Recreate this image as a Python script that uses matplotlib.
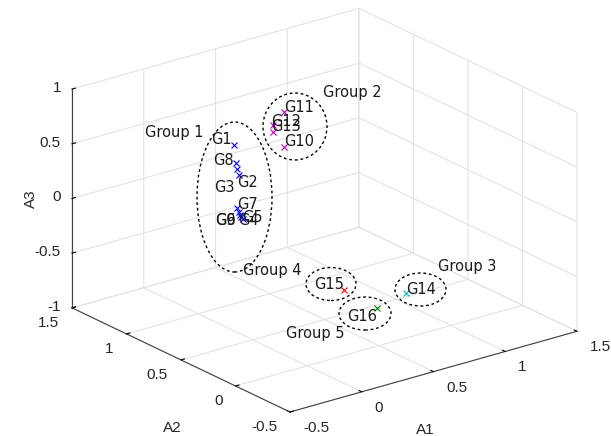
import numpy as np
import matplotlib
matplotlib.use('Agg')
import matplotlib.pyplot as plt
from matplotlib.patches import Ellipse
from mpl_toolkits.mplot3d import proj3d

# ---------------- data ----------------
names = ['G1', 'G2', 'G3', 'G4', 'G5', 'G6', 'G7', 'G8', 'G9',
         'G10', 'G11', 'G12', 'G13', 'G14', 'G15', 'G16']
A1 = [0.0, 0.0, 0.0, 0.0, 0.0, 0.0, 0.0, 0.0, 0.0,
      0.5, 0.5, 0.5, 0.5, 1.0, 0.7, 0.8]
A2 = [0.67, 0.63, 0.64, 0.59, 0.63, 0.62, 0.645, 0.65, 0.61,
      0.87, 0.87, 0.975, 0.97, 0.41, 0.586, 0.413]
A3 = [0.70, 0.44, 0.49, 0.06, 0.11, 0.08, 0.14, 0.54, 0.07,
      0.40, 0.72, 0.55, 0.49, -0.90, -0.84, -0.96]
point_colors = ['b'] * 9 + ['m'] * 4 + ['c', 'r', 'g']
# label offsets (pixels, right / up) relative to each point
label_dx = [-12.5, 9, -13.5, 6, 13.5, -14, 11, -13, -15,
            14.5, 14.5, 13.3, 12.7, 15, -15, -15]
label_dy = [5, -7.5, -18.5, -1, -5.5, -5, 3, 3, -4,
            5.8, 4.3, 4.2, 5.3, 4, 5, -9]

ticks_xy = [-0.5, 0, 0.5, 1, 1.5]
ticks_z = [-1, -0.5, 0, 0.5, 1]
tick_labels_xy = ['-0.5', '0', '0.5', '1', '1.5']
tick_labels_z = ['-1', '-0.5', '0', '0.5', '1']

group_names = ['Group 1', 'Group 2', 'Group 3', 'Group 4', 'Group 5']
group_label_xy = [(174, 132), (352, 93), (467, 267), (272, 271), (315, 333)]
ellipse_cxy = [(234.5, 197), (295, 126.5), (420.5, 289.5), (331, 284), (365, 313.5)]
ellipse_wh = [(75, 150), (64, 67), (51, 33), (50, 33), (52, 33)]

# ---------------- figure ----------------
W, H = 611, 436
plt.rcParams['axes.unicode_minus'] = False
plt.rcParams['grid.color'] = '#e3e3e3'
plt.rcParams['grid.linewidth'] = 0.8
plt.rcParams['font.family'] = ['Liberation Sans', 'DejaVu Sans']

fig = plt.figure(figsize=(W / 100, H / 100), dpi=100)
ax = fig.add_axes([0.0, 0.0, 1.0, 1.0], projection='3d')
ax.set_proj_type('ortho')
ax.view_init(elev=21.5, azim=-127.5)
ax.set_box_aspect((1, 0.99, 0.65))
ax.set_xlim(-0.5, 1.5)
ax.set_ylim(-0.5, 1.5)
ax.set_zlim(-1, 1)

for x, y, z, c in zip(A1, A2, A3, point_colors):
    ax.plot([x], [y], [z], linestyle='none', marker='x', color=c,
            markersize=5, markeredgewidth=0.8)

ax.set_xticks(ticks_xy)
ax.set_yticks(ticks_xy)
ax.set_zticks(ticks_z)
ax.set_xticklabels([])
ax.set_yticklabels([])
ax.set_zticklabels([])

for axis in (ax.xaxis, ax.yaxis, ax.zaxis):
    axis.set_pane_color((1, 1, 1, 0))
    axis.pane.set_edgecolor('#e3e3e3')
    axis.line.set_color('#404040')
    axis.line.set_linewidth(0.8)
    axis._axinfo['tick']['inward_factor'] = 0.0
    axis._axinfo['tick']['outward_factor'] = 0.15
    axis._axinfo['tick']['color'] = '#404040'


def to_px(x, y, z):
    X, Y, _ = proj3d.proj_transform(x, y, z, ax.get_proj())
    return ax.transData.transform((X, Y))


# place the box: front corner and width from the reference
target_front = np.array([290.0, H - 412.0])
target_span = 577.0 - 72.0
for _ in range(4):
    fig.canvas.draw()
    r = to_px(1.5, -0.5, -1)
    l = to_px(-0.5, 1.5, -1)
    k = target_span / (r[0] - l[0])
    p = ax.get_position(original=True)
    ax.set_position([p.x0, p.y0, p.width * k, p.height * k])
    fig.canvas.draw()
    f = to_px(-0.5, -0.5, -1)
    d = target_front - f
    p = ax.get_position(original=True)
    ax.set_position([p.x0 + d[0] / W, p.y0 + d[1] / H, p.width, p.height])

fig.canvas.draw()
tick_kw = dict(fontsize=11, color='#262626')

# tick labels (MATLAB-like placement)
for v, s in zip(ticks_xy, tick_labels_xy):
    px, py = to_px(v, -0.5, -1)
    fig.text((px + 13) / W, (py - 16) / H, s, ha='left', va='center', **tick_kw)
    px, py = to_px(-0.5, v, -1)
    fig.text((px - 13) / W, (py - 15) / H, s, ha='right', va='center', **tick_kw)
for v, s in zip(ticks_z, tick_labels_z):
    px, py = to_px(-0.5, 1.5, v)
    fig.text((px - 11) / W, (py + 1) / H, s, ha='right', va='center', **tick_kw)

# axis labels
px, py = to_px(0.5, -0.5, -1)
fig.text((px - 8) / W, (py - 58) / H, 'A1', ha='center', va='center', **tick_kw)
px, py = to_px(-0.5, 0.5, -1)
fig.text((px - 9) / W, (py - 68) / H, 'A2', ha='center', va='center', **tick_kw)
px, py = to_px(-0.5, 1.5, 0)
fig.text((px - 41) / W, py / H, 'A3', ha='center', va='center', rotation=90, **tick_kw)

for x, y, z, s, dx, dy in zip(A1, A2, A3, names, label_dx, label_dy):
    px, py = to_px(x, y, z)
    fig.text((px + dx) / W, (py + dy) / H, s, fontsize=10.5,
             family='DejaVu Sans', ha='center', va='center', color='#1a1a1a')

for (gx, gy), g in zip(group_label_xy, group_names):
    fig.text(gx / W, (H - gy) / H, g, fontsize=10.5, family='DejaVu Sans',
             ha='center', va='center', color='#1a1a1a')

for (cx, cy), (ew, eh) in zip(ellipse_cxy, ellipse_wh):
    fig.add_artist(Ellipse((cx / W, (H - cy) / H), ew / W, eh / H,
                           transform=fig.transFigure, fill=False,
                           edgecolor='black', linewidth=1.0,
                           linestyle=(0, (2.0, 2.0))))

fig.savefig('out.png', dpi=100)
